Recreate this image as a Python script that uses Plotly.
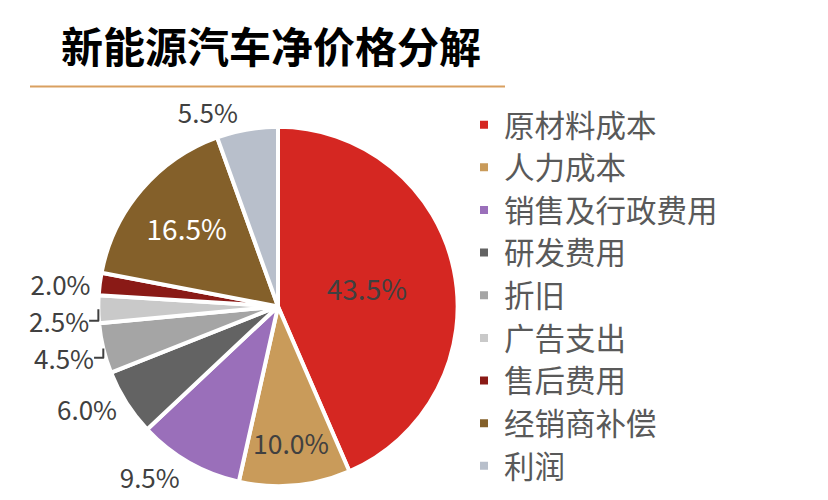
import plotly.graph_objects as go

# 新能源汽车净价格分解
categories = ["原材料成本", "人力成本", "销售及行政费用", "研发费用", "折旧",
              "广告支出", "售后费用", "经销商补偿", "利润"]
shares = [43.5, 10.0, 9.5, 6.0, 4.5, 2.5, 2.0, 16.5, 5.5]
label_text = ["43.5%", "10.0%", "9.5%", "6.0%", "4.5%", "2.5%", "2.0%", "16.5%", "5.5%"]

colors = ["#D52722", "#C99B5A", "#9A6FBA", "#636363", "#A5A5A5",
          "#C9C9C9", "#8A1A16", "#84602A", "#B8BFCB"]
text_pos = ["inside", "inside", "outside", "outside", "outside",
            "outside", "outside", "inside", "outside"]
text_colors = ["#404040", "#404040", "#404040", "#404040", "#404040",
               "#404040", "#404040", "#FFFFFF", "#404040"]

# the page puts the plot 8px in from the top-left corner, so draw in
# page coordinates and subtract that offset
OFF = 8
W, H = 828 - OFF, 500 - OFF


def px_x(x):
    return (x - OFF) / W


def px_y(y):
    return 1 - (y - OFF) / H


cx, cy, r = 278, 312, 183

fig = go.Figure(
    go.Pie(
        labels=categories,
        values=shares,
        text=label_text,
        textinfo="text",
        textposition=text_pos,
        insidetextorientation="horizontal",
        sort=False,
        direction="clockwise",
        rotation=0,
        marker=dict(colors=colors, line=dict(color="white", width=4)),
        insidetextfont=dict(family="Noto Sans CJK SC", size=28, color=text_colors),
        outsidetextfont=dict(family="Noto Sans CJK SC", size=26, color="#404040"),
        domain=dict(x=[px_x(cx - r), px_x(cx + r)], y=[px_y(cy + r), px_y(cy - r)]),
        hoverinfo="label+percent",
    )
)

fig.update_layout(
    width=W,
    height=H,
    paper_bgcolor="white",
    margin=dict(l=0, r=0, t=0, b=0),
    title=dict(
        text="<b>新能源汽车净价格分解</b>",
        font=dict(family="Noto Sans CJK SC", size=42, color="black"),
        x=px_x(61),
        xanchor="left",
        y=px_y(48),
        yanchor="middle",
    ),
    legend=dict(
        x=px_x(464),
        y=px_y(100),
        xanchor="left",
        yanchor="top",
        font=dict(family="Noto Sans CJK SC", size=30.5, color="#595959"),
        bgcolor="rgba(0,0,0,0)",
    ),
    shapes=[
        dict(type="line", xref="paper", yref="paper",
             x0=px_x(30), x1=px_x(505), y0=px_y(88), y1=px_y(88),
             line=dict(color="#D9A060", width=2)),
    ],
)

fig.write_html("out.html")
